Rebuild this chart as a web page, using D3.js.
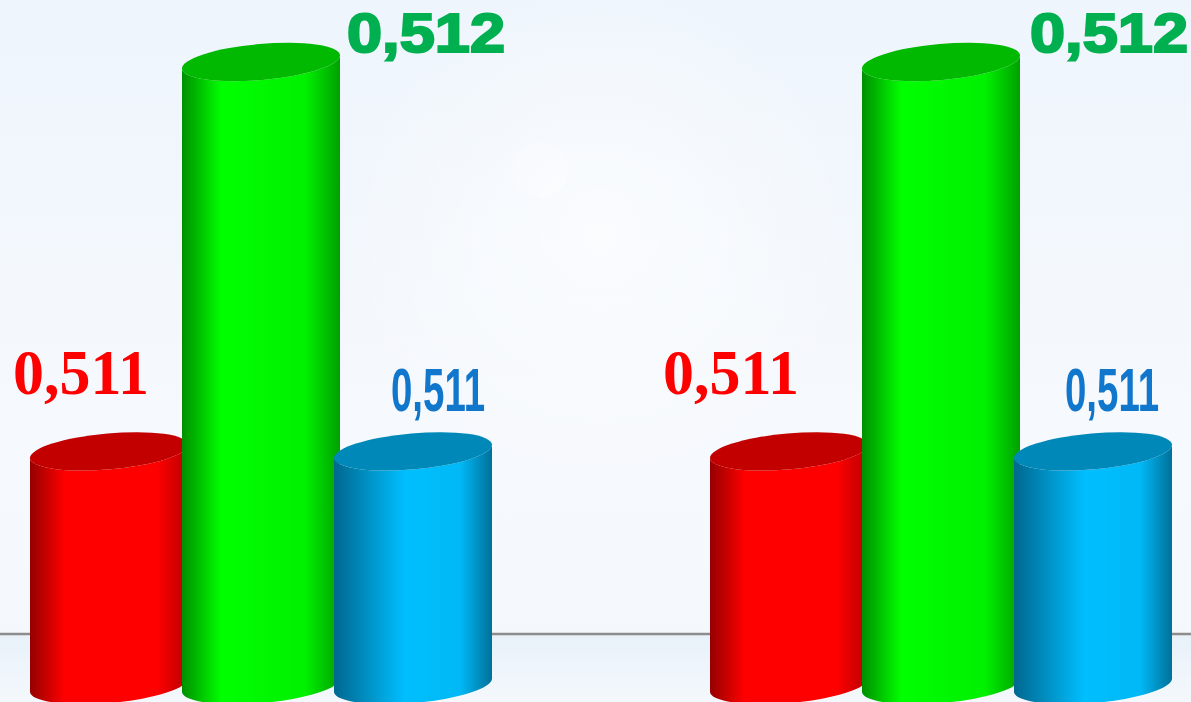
<!DOCTYPE html>
<html>
<head>
<meta charset="utf-8">
<script src="https://cdn.jsdelivr.net/npm/d3@7"></script>
<style>
  html, body { margin: 0; padding: 0; background: #f3f8fd; }
  svg { display: block; }
</style>
</head>
<body>
<svg id="chart" width="1191" height="702"></svg>
<script>
// ---- data ----
const categories = ["Group 1", "Group 2"];
const seriesNames = ["Series 1", "Series 2", "Series 3"];
const seriesValues = [
  [0.511, 0.511],   // red
  [0.512, 0.512],   // green
  [0.511, 0.511]    // blue
];

// ---- styling / layout (not data) ----
const bodyStops = [
  [["0%", "#950000"], ["22%", "#ff0000"], ["80%", "#ff0000"], ["100%", "#b80000"]],
  [["0%", "#008f00"], ["25%", "#00ff00"], ["78%", "#00f000"], ["100%", "#00a000"]],
  [["0%", "#00678f"], ["45%", "#00bfff"], ["80%", "#00b8f5"], ["100%", "#007099"]]
];
const topFills = ["#c20000", "#00b900", "#0089b8"];
const labelColors = ["#ff0000", "#00b050", "#1177cc"];
const labelFonts = [
  {family: "'Liberation Serif', 'Times New Roman', serif", weight: "bold", size: 63, len: 136},
  {family: "'Liberation Sans', Arial, sans-serif", weight: "bold", size: 56, len: 158},
  {family: "'Liberation Sans Narrow', 'Liberation Sans', Arial, sans-serif", weight: "bold", size: 61, len: 94}
];
// label anchor offsets (left edge x relative to bar center, baseline y relative to bar top)
const labelDx = [[-96, -126], [86, 89], [-22, -28]];
const labelDy = [-57, -10, -40];

const W = 1191, H = 702;
const svg = d3.select("#chart");
const defs = svg.append("defs");

// background
const bg = defs.append("linearGradient").attr("id", "bg").attr("x1", 0).attr("y1", 0).attr("x2", 0).attr("y2", 1);
bg.append("stop").attr("offset", "0%").attr("stop-color", "#eef5fc");
bg.append("stop").attr("offset", "60%").attr("stop-color", "#f6f9fd");
bg.append("stop").attr("offset", "100%").attr("stop-color", "#f4f8fc");
svg.append("rect").attr("width", W).attr("height", H).attr("fill", "url(#bg)");
const bgLow = defs.append("linearGradient").attr("id", "bglow").attr("x1", 0).attr("y1", 0).attr("x2", 0).attr("y2", 1);
bgLow.append("stop").attr("offset", "0%").attr("stop-color", "#e8f1f9");
bgLow.append("stop").attr("offset", "100%").attr("stop-color", "#f4f8fc");
svg.append("rect").attr("x", 0).attr("y", 635).attr("width", W).attr("height", H - 635).attr("fill", "url(#bglow)");
// faint decorative glow
const rg = defs.append("radialGradient").attr("id", "glow");
rg.append("stop").attr("offset", "0%").attr("stop-color", "#ffffff").attr("stop-opacity", 0.6);
rg.append("stop").attr("offset", "100%").attr("stop-color", "#ffffff").attr("stop-opacity", 0);
svg.append("circle").attr("cx", 600).attr("cy", 230).attr("r", 260).attr("fill", "url(#glow)");
svg.append("circle").attr("cx", 540).attr("cy", 170).attr("r", 28).attr("fill", "#ffffff").attr("opacity", 0.25);

// body gradients
bodyStops.forEach((stops, i) => {
  const g = defs.append("linearGradient").attr("id", "body" + i)
    .attr("x1", 0).attr("y1", 0).attr("x2", 1).attr("y2", 0);
  stops.forEach(s => g.append("stop").attr("offset", s[0]).attr("stop-color", s[1]));
});

// ---- scales ----
const x0 = d3.scaleBand().domain(categories).range([30, 30 + 680 * categories.length]).padding(0);
const x1 = d3.scaleBand().domain(seriesNames).range([0, 456]).padding(0);
const y = d3.scaleLinear().domain([0.5104, 0.512]).range([685, 62]);

const locale = d3.formatLocale({decimal: ",", thousands: ".", grouping: [3], currency: ["", ""]});
const fmt = locale.format(".3f");

// baseline
svg.append("line").attr("x1", 0).attr("x2", W).attr("y1", 634).attr("y2", 634)
  .attr("stroke", "#8c8c8c").attr("stroke-width", 2.5);

const theta = -5 * Math.PI / 180;
const barW = x1.bandwidth() + 6;
const a = barW / 2;
const rx = a / Math.cos(theta);
const ry = 18;
const s = -rx * Math.sin(theta); // vertical offset of ends

const yBottom = y(0.5104);

categories.forEach((cat, ci) => {
  seriesNames.forEach((ser, si) => {
    const v = seriesValues[si][ci];
    const cx = x0(cat) + x1(ser) + a;
    const yt = y(v);
    const g = svg.append("g");
    const path = `M${cx - a},${yt + s} L${cx - a},${yBottom + s} ` +
      `A${rx},${ry} -5 0 0 ${cx + a},${yBottom - s} ` +
      `L${cx + a},${yt - s} ` +
      `A${rx},${ry} -5 0 1 ${cx - a},${yt + s} Z`;
    g.append("path").attr("d", path).attr("fill", `url(#body${si})`);
    g.append("ellipse").attr("cx", 0).attr("cy", 0).attr("rx", rx).attr("ry", ry)
      .attr("transform", `translate(${cx},${yt}) rotate(-5)`)
      .attr("fill", topFills[si]);

    const f = labelFonts[si];
    svg.append("text")
      .attr("x", cx + labelDx[si][ci])
      .attr("y", yt + labelDy[si])
      .attr("font-family", f.family)
      .attr("font-weight", f.weight)
      .attr("font-size", f.size)
      .attr("textLength", f.len)
      .attr("lengthAdjust", "spacingAndGlyphs")
      .attr("fill", labelColors[si])
      .attr("stroke", si === 1 ? labelColors[si] : "none")
      .attr("stroke-width", si === 1 ? 2.2 : 0)
      .text(fmt(v));
  });
});
</script>
</body>
</html>
